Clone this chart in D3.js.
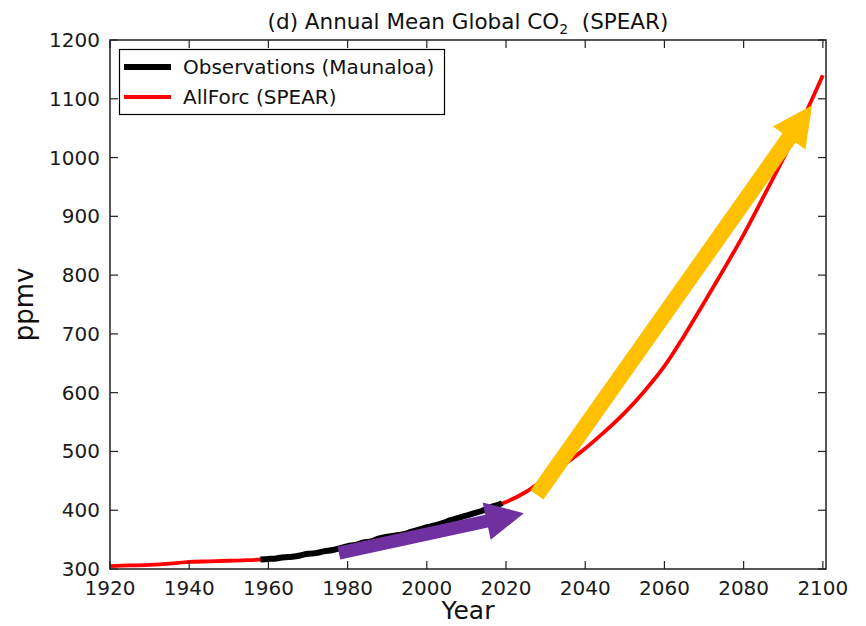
<!DOCTYPE html>
<html>
<head>
<meta charset="utf-8">
<script src="https://cdn.jsdelivr.net/npm/d3@7"></script>
<style>
  html, body { margin: 0; padding: 0; background: #fff; }
  svg { display: block; font-family: "DejaVu Sans", sans-serif; }
</style>
</head>
<body>
<svg id="chart" width="866" height="626"></svg>
<script>
// ---- data ----
const modelYears = [1920,1925,1930,1935,1940,1945,1950,1955,1960,1965,1970,1975,1980,1985,1990,1995,2000,2005,2010,2015,2020,2025,2030,2035,2040,2045,2050,2055,2060,2065,2070,2075,2080,2085,2090,2095,2100];
const modelCO2   = [305,306,307,309,312,313,314,315,317,320,326,332,339,347,355,362,371,380,391,402,414,431,455,479,505,534,566,603,645,697,753,810,869,933,998,1066,1140];

const obsYears = [1958,1960,1962,1964,1966,1968,1970,1972,1974,1976,1978,1980,1982,1984,1986,1988,1990,1992,1994,1996,1998,2000,2002,2004,2006,2008,2010,2012,2014,2016,2018,2019];
const obsCO2   = [316,317,318,320,321,323,326,327,330,332,335,339,341,345,347,352,355,357,359,363,367,371,374,378,383,387,391,395,399,405,409,412];

const xTicks = [1920,1940,1960,1980,2000,2020,2040,2060,2080,2100];
const yTicks = [300,400,500,600,700,800,900,1000,1100,1200];

const legendLabels = ["Observations (Maunaloa)", "AllForc (SPEAR)"];
const seriesColors = ["#000000", "#ff0000"];

// annotation arrows in data units: [year, ppmv] tail and tip
const purpleArrow = {tail: [1977.8, 327], tip: [2024.5, 395]};
const orangeArrow = {tail: [2027.8, 426], tip: [2097.3, 1089]};

// ---- layout ----
const svg = d3.select("#chart");
const L = 110, R = 826, T = 40, B = 569;
const x = d3.scaleLinear().domain([1920, 2100.8]).range([L, R]);
const y = d3.scaleLinear().domain([300, 1200]).range([B, T]);

const axisColor = "#222";
const tickLen = 8;

// lines
const line = d3.line().x(d => x(d[0])).y(d => y(d[1])).curve(d3.curveCatmullRom.alpha(0.5));
const g = svg.append("g");
g.append("path")
  .datum(modelYears.map((yr, i) => [yr, modelCO2[i]]))
  .attr("d", line).attr("fill", "none").attr("stroke", seriesColors[1])
  .attr("stroke-width", 3.8).attr("stroke-linejoin", "round");
g.append("path")
  .datum(obsYears.map((yr, i) => [yr, obsCO2[i]]))
  .attr("d", line).attr("fill", "none").attr("stroke", seriesColors[0])
  .attr("stroke-width", 6).attr("stroke-linejoin", "round");

// arrows
function arrowPoly(a, w, hw, hl) {
  const x0 = x(a.tail[0]), y0 = y(a.tail[1]);
  const x1 = x(a.tip[0]), y1 = y(a.tip[1]);
  const dx = x1 - x0, dy = y1 - y0, len = Math.hypot(dx, dy);
  const ux = dx / len, uy = dy / len, nx = -uy, ny = ux;
  const bx = x1 - ux * hl, by = y1 - uy * hl;
  return [
    [x0 + nx * w / 2, y0 + ny * w / 2],
    [bx + nx * w / 2, by + ny * w / 2],
    [bx + nx * hw / 2, by + ny * hw / 2],
    [x1, y1],
    [bx - nx * hw / 2, by - ny * hw / 2],
    [bx - nx * w / 2, by - ny * w / 2],
    [x0 - nx * w / 2, y0 - ny * w / 2]
  ];
}
svg.append("polygon").attr("points", arrowPoly(purpleArrow, 13, 38, 38).map(p => p.join(",")).join(" "))
  .attr("fill", "#7030a0");
svg.append("polygon").attr("points", arrowPoly(orangeArrow, 16, 40, 40).map(p => p.join(",")).join(" "))
  .attr("fill", "#ffc000");

// frame
svg.append("rect").attr("x", L).attr("y", T).attr("width", R - L).attr("height", B - T)
  .attr("fill", "none").attr("stroke", axisColor).attr("stroke-width", 1.5);

// ticks (inward, all sides)
const tg = svg.append("g").attr("stroke", axisColor).attr("stroke-width", 1.2);
xTicks.forEach(t => {
  tg.append("line").attr("x1", x(t)).attr("x2", x(t)).attr("y1", B).attr("y2", B - tickLen);
  tg.append("line").attr("x1", x(t)).attr("x2", x(t)).attr("y1", T).attr("y2", T + tickLen);
});
yTicks.forEach(t => {
  tg.append("line").attr("x1", L).attr("x2", L + tickLen).attr("y1", y(t)).attr("y2", y(t));
  tg.append("line").attr("x1", R).attr("x2", R - tickLen).attr("y1", y(t)).attr("y2", y(t));
});

// tick labels
const lab = svg.append("g").attr("fill", "#1a1a1a").attr("font-size", 20);
xTicks.forEach(t => {
  lab.append("text").attr("x", x(t)).attr("y", 595).attr("text-anchor", "middle").text(t);
});
yTicks.forEach(t => {
  lab.append("text").attr("x", 100).attr("y", y(t) + 7).attr("text-anchor", "end").text(t);
});

// axis titles
svg.append("text").attr("x", (L + R) / 2).attr("y", 619).attr("text-anchor", "middle")
  .attr("font-size", 25).attr("fill", "#111").text("Year");
svg.append("text").attr("transform", `translate(33,${(T + B) / 2}) rotate(-90)`)
  .attr("text-anchor", "middle").attr("font-size", 26).attr("fill", "#111").text("ppmv");

// title
const title = svg.append("text").attr("x", (L + R) / 2).attr("y", 29).attr("text-anchor", "middle")
  .attr("font-size", 21.5).attr("fill", "#111");
title.append("tspan").text("(d) Annual Mean Global CO");
title.append("tspan").attr("font-size", 14).attr("dy", 5).text("2");
title.append("tspan").attr("dy", -5).text("\u00a0 (SPEAR)");

// legend
const lg = svg.append("g");
lg.append("rect").attr("x", 119.5).attr("y", 49.5).attr("width", 325).attr("height", 65)
  .attr("fill", "#fff").attr("stroke", "#000").attr("stroke-width", 1.2);
const legW = [6, 4];
legendLabels.forEach((name, i) => {
  const yy = 67 + i * 30;
  lg.append("line").attr("x1", 124).attr("x2", 171).attr("y1", yy).attr("y2", yy)
    .attr("stroke", seriesColors[i]).attr("stroke-width", legW[i]);
  lg.append("text").attr("x", 183).attr("y", yy + 7).attr("font-size", 20).attr("fill", "#111").text(name);
});
</script>
</body>
</html>
